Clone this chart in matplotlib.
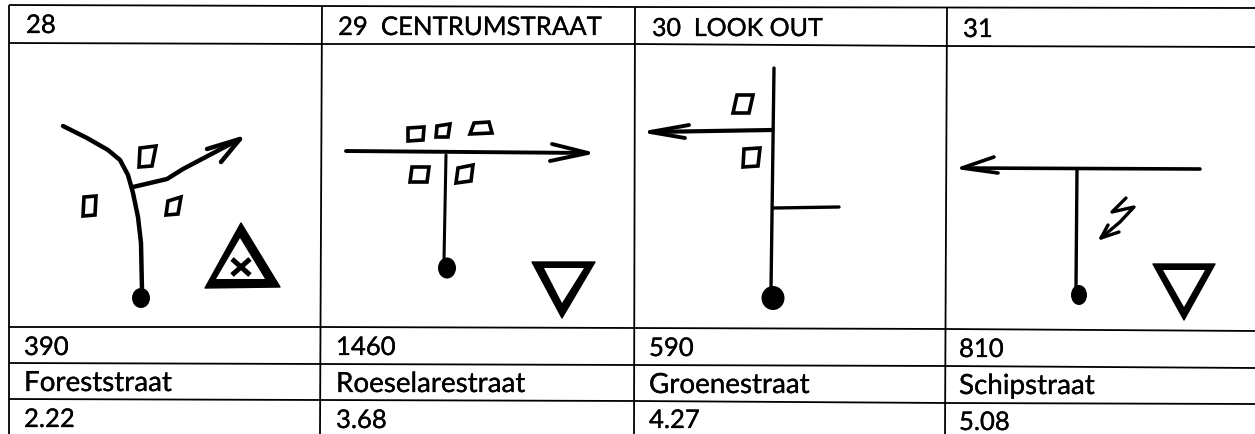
import matplotlib
matplotlib.use("Agg")
import matplotlib.pyplot as plt
import matplotlib.patheffects as pe
from matplotlib.patches import Ellipse, Polygon

# --- table content ---
titles = ["28", "29  CENTRUMSTRAAT", "30  LOOK OUT", "31"]
counts = ["390", "1460", "590", "810"]
streets = ["Foreststraat", "Roeselarestraat", "Groenestraat", "Schipstraat"]
positions = ["2.22", "3.68", "4.27", "5.08"]

title_xy = [(26, 33), (338, 35), (652, 36), (963, 37)]
count_xy = [(24, 355), (336, 355), (649, 356), (959, 357)]
street_xy = [(24, 391), (336, 392), (649, 393), (959, 394)]
pos_xy = [(24, 427), (336, 428), (649, 428), (959, 430)]
title_sizes = [18.5, 18.5, 18, 18.5]

# --- table rules (slightly skewed scan) ---
h_rules = [
    [(9, 5), (322, 6), (635, 7), (1255, 8)],
    [(9, 43), (322, 44), (635, 44), (947, 46), (1255, 47)],
    [(9, 327), (322, 327), (635, 328), (947, 329), (1255, 331)],
    [(9, 363), (322, 364), (635, 365), (947, 366), (1255, 368)],
    [(9, 399), (322, 400), (635, 401), (947, 403), (1255, 404)],
]
v_rules = [
    [(9, 5), (9, 434)],
    [(322, 6), (320, 434)],
    [(635, 7), (634, 434)],
    [(947, 8), (945, 434)],
]

# --- sketch strokes: (points, line width) ---
strokes = [
    # panel 28
    ([(63, 126), (87, 138), (108, 150), (120, 160), (128, 175), (133, 193), (138, 217), (141, 243), (142, 290)], 3.2),
    ([(133, 187), (167, 179), (183, 169), (240, 139)], 3.2),
    ([(207, 149), (240, 139), (221, 162)], 3.2),
    # panel 29
    ([(346, 151), (588, 153)], 2.8),
    ([(552, 144), (588, 153), (550, 161)], 2.8),
    ([(446, 155), (444, 260)], 2.2),
    # panel 30
    ([(774, 68), (771, 290)], 2.4),
    ([(772, 130), (650, 132)], 3.0),
    ([(689, 125), (650, 132), (685, 138)], 2.8),
    ([(774, 208), (839, 207)], 2.4),
    # panel 31
    ([(962, 168), (1200, 169)], 2.6),
    ([(994, 157), (962, 168), (998, 173)], 2.6),
    ([(1077, 169), (1076, 287)], 2.4),
    ([(1126, 198), (1112, 212), (1134, 207), (1120, 222), (1101, 238)], 2.4),
    ([(1108, 225), (1101, 238), (1119, 232)], 2.4),
]

# --- houses (hand-drawn quads) ---
houses = [
    [(140, 148), (156, 146), (152, 166), (139, 167)],
    [(84, 197), (96, 196), (95, 215), (83, 216)],
    [(168, 201), (181, 197), (178, 214), (166, 215)],
    [(408, 128), (424, 127), (423, 140), (408, 141)],
    [(437, 126), (450, 124), (448, 137), (436, 137)],
    [(474, 123), (489, 122), (492, 133), (470, 134)],
    [(412, 167), (429, 167), (427, 182), (410, 182)],
    [(458, 168), (473, 165), (471, 181), (456, 183)],
    [(737, 95), (753, 95), (749, 113), (733, 113)],
    [(744, 149), (760, 148), (758, 166), (743, 167)],
]

# --- junction dots: (x, y, width, height) ---
dots = [(141, 298, 18, 20), (447, 268, 18, 21), (773, 298, 23, 24), (1079, 295, 16, 20)]

# --- road signs: (outer triangle, inner triangle) ---
signs = [
    ([(241, 223), (205, 288), (280, 287)], [(240, 238), (216, 279), (265, 279)]),
    ([(532, 262), (595, 262), (562, 318)], [(544, 268), (584, 268), (562, 303)]),
    ([(1153, 264), (1215, 264), (1184, 320)], [(1163, 270), (1205, 270), (1184, 307)]),
]
cross_center = (241, 267)
cross_size = (9, 8)

INK = "#000000"
fig = plt.figure(figsize=(12.55, 4.34), dpi=100, facecolor="white")
ax = fig.add_axes([0, 0, 1, 1])
ax.set_xlim(0, 1255)
ax.set_ylim(434, 0)
ax.axis("off")

for rule in h_rules + v_rules:
    xs, ys = zip(*rule)
    ax.plot(xs, ys, color=INK, lw=1.3, solid_capstyle="butt")

for pts, lw in strokes:
    xs, ys = zip(*pts)
    ax.plot(xs, ys, color=INK, lw=lw, solid_capstyle="round", solid_joinstyle="round")

for quad in houses:
    ax.add_patch(Polygon(quad, closed=True, fill=False, edgecolor=INK, lw=2.6))

for x, y, w, h in dots:
    ax.add_patch(Ellipse((x, y), w, h, facecolor=INK, edgecolor="none"))

for outer, inner in signs:
    ax.add_patch(Polygon(outer, closed=True, facecolor=INK, edgecolor=INK, lw=1.0, joinstyle="round"))
    ax.add_patch(Polygon(inner, closed=True, facecolor="white", edgecolor="none"))

cx, cy = cross_center
sx, sy = cross_size
ax.plot([cx - sx, cx + sx], [cy - sy, cy + sy], color=INK, lw=3.6, solid_capstyle="butt")
ax.plot([cx - sx, cx + sx], [cy + sy, cy - sy], color=INK, lw=3.6, solid_capstyle="butt")

bold = [pe.withStroke(linewidth=0.2, foreground=INK)]
rows = [
    (titles, title_xy, title_sizes),
    (counts, count_xy, [18.5] * 4),
    (streets, street_xy, [20] * 4),
    (positions, pos_xy, [18.5] * 4),
]
for labels, xy, sizes in rows:
    for s, (x, y), fs in zip(labels, xy, sizes):
        ax.text(x, y, s, family="Lato", fontsize=fs, color=INK, ha="left", va="baseline", path_effects=bold)

fig.savefig("out.png", dpi=100, facecolor="white")
